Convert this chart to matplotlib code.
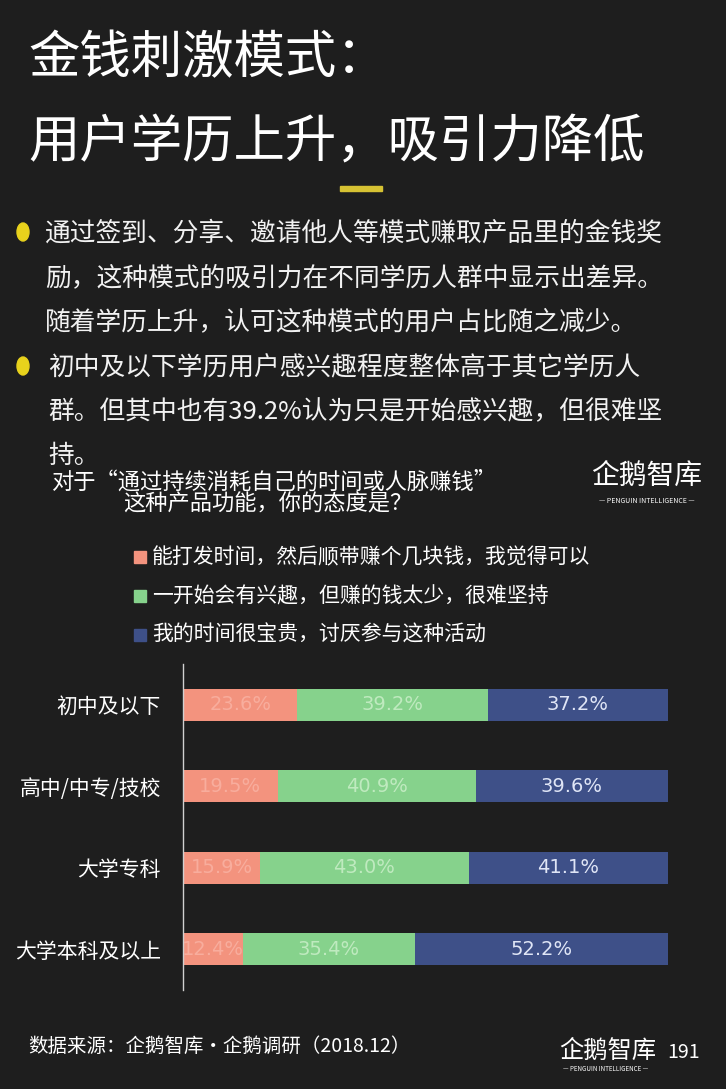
import matplotlib
matplotlib.use("Agg")
import matplotlib.pyplot as plt
from matplotlib.patches import Circle, Rectangle

plt.rcParams["font.family"] = ["Noto Sans CJK SC", "DejaVu Sans"]

# data
categories = ["初中及以下", "高中/中专/技校", "大学专科", "大学本科及以上"]
series_names = [
    "能打发时间，然后顺带赚个几块钱，我觉得可以",
    "一开始会有兴趣，但赚的钱太少，很难坚持",
    "我的时间很宝贵，讨厌参与这种活动",
]
can_accept = [23.6, 19.5, 15.9, 12.4]
hard_to_keep = [39.2, 40.9, 43.0, 35.4]
dislike = [37.2, 39.6, 41.1, 52.2]

BG = "#1e1e1e"
colors = ["#f3937e", "#86d28c", "#3e5088"]
label_colors = ["#f8ad9d", "#bfeabf", "#dfe5f6"]

W, H = 726, 1089
fig = plt.figure(figsize=(W / 100, H / 100), dpi=100, facecolor=BG)


def fx(px):
    return px / W


def fy(py):
    return 1 - py / H


# headline
fig.text(fx(28), fy(58), "金钱刺激模式：", color="white", fontsize=37, va="center")
fig.text(fx(28), fy(142), "用户学历上升，吸引力降低", color="white", fontsize=37,
         va="center")
fig.patches.append(Rectangle((fx(340), fy(191)), fx(42), 5 / H, color="#d6c233",
                             transform=fig.transFigure))

# bullet paragraphs
bullets = [
    (232, 45, ["通过签到、分享、邀请他人等模式赚取产品里的金钱奖",
               "励，这种模式的吸引力在不同学历人群中显示出差异。",
               "随着学历上升，认可这种模式的用户占比随之减少。"]),
    (366, 48, ["初中及以下学历用户感兴趣程度整体高于其它学历人",
               "群。但其中也有39.2%认为只是开始感兴趣，但很难坚",
               "持。"]),
]
for y0, x0, lines in bullets:
    fig.patches.append(Circle((fx(23), fy(y0)), 6 / W, color="#e8d21c",
                              transform=fig.transFigure))
    for i, line in enumerate(lines):
        fig.text(fx(x0), fy(y0 + 2 + i * 44), line, color="#f2f2f2",
                 fontsize=18.5, va="center")

# chart title
fig.text(fx(52), fy(482), "对于“通过持续消耗自己的时间或人脉赚钱”", color="white",
         fontsize=16, va="center")
fig.text(fx(123), fy(504), "这种产品功能，你的态度是？", color="white",
         fontsize=16, va="center")

# logos
fig.text(fx(647), fy(476), "企鹅智库", color="white", fontsize=20, va="center",
         ha="center")
fig.text(fx(647), fy(501), "— PENGUIN INTELLIGENCE —", color="white",
         fontsize=5, va="center", ha="center")
fig.text(fx(608), fy(1051), "企鹅智库", color="white", fontsize=17.5,
         va="center", ha="center")
fig.text(fx(606), fy(1069), "— PENGUIN INTELLIGENCE —", color="white",
         fontsize=4.5, va="center", ha="center")
fig.text(fx(700), fy(1052), "191", color="white", fontsize=14, va="center",
         ha="right")

# source
fig.text(fx(28), fy(1046), "数据来源：企鹅智库·企鹅调研（2018.12）", color="white",
         fontsize=14, va="center")

# legend
for i, (name, c) in enumerate(zip(series_names, colors)):
    y = 557 + i * 39
    fig.patches.append(Rectangle((fx(134), fy(y + 6)), 12 / W, 12 / H, color=c,
                                 transform=fig.transFigure))
    fig.text(fx(152), fy(y), name, color="white", fontsize=15, va="center")

# stacked bars
ax = fig.add_axes([fx(183), 99 / H, (668 - 183) / W, 326 / H])
ax.set_facecolor(BG)
left = [0.0] * len(categories)
for vals, c, lc in zip([can_accept, hard_to_keep, dislike], colors, label_colors):
    bars = ax.barh(range(len(categories)), vals, left=left, height=0.39, color=c)
    ax.bar_label(bars, labels=[f"{v:.1f}%" for v in vals], label_type="center",
                 color=lc, fontsize=14, family=["DejaVu Sans"])
    left = [l + v for l, v in zip(left, vals)]

ax.set_xlim(0, 100)
ax.set_ylim(len(categories) - 0.5, -0.5)
ax.set_yticks(range(len(categories)))
ax.set_yticklabels(categories, color="white", fontsize=15)
ax.tick_params(axis="y", length=0, pad=16)
ax.set_xticks([])
for side in ["top", "right", "bottom"]:
    ax.spines[side].set_visible(False)
ax.spines["left"].set_color("#d0d0d0")
ax.spines["left"].set_linewidth(1)

fig.savefig("out.png", dpi=100, facecolor=BG)
